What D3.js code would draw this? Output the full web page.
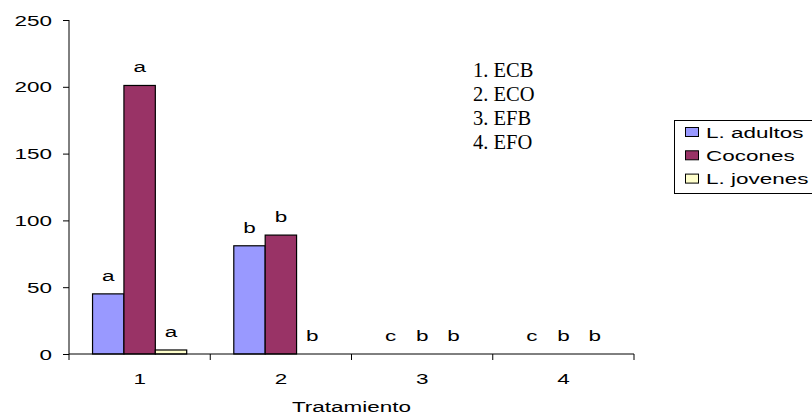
<!DOCTYPE html>
<html>
<head>
<meta charset="utf-8">
<script src="https://cdn.jsdelivr.net/npm/d3@7/dist/d3.min.js"></script>
<style>
  html, body { margin: 0; padding: 0; background: #fff; }
  svg { display: block; }
</style>
</head>
<body>
<svg id="chart" width="812" height="414"></svg>
<script>
// Treatments on the x axis
const categories = ["1", "2", "3", "4"];
// Series names and colours
const seriesNames = ["L. adultos", "Cocones", "L. jovenes"];
const seriesColors = ["#9999FF", "#993366", "#FFFFCC"];
// Values per series, one per treatment
const adultos = [45, 81, 0, 0];
const cocones = [201, 89, 0, 0];
const jovenes = [3, 0, 0, 0];
// Significance letters above each bar, per series
const lettersAdultos = ["a", "b", "c", "c"];
const lettersCocones = ["a", "b", "b", "b"];
const lettersJovenes = ["a", "b", "b", "b"];
// Y axis ticks
const yTicks = [0, 50, 100, 150, 200, 250];
// Treatment key
const keyLines = ["1. ECB", "2. ECO", "3. EFB", "4. EFO"];
const xTitle = "Tratamiento";

const values = [adultos, cocones, jovenes];
const letters = [lettersAdultos, lettersCocones, lettersJovenes];

const svg = d3.select("#chart");
const plotLeft = 69, plotRight = 634, plotTop = 20, plotBottom = 354;
const SX = 1.45;              // horizontal stretch of the sans text
const FS = 15.5;              // sans font size
const SANS = "'Liberation Sans', Arial, sans-serif";
const SERIF = "'Liberation Serif', 'Times New Roman', serif";

const y = d3.scaleLinear().domain([0, 250]).range([plotBottom, plotTop]);
const x0 = d3.scaleBand().domain(categories).range([plotLeft, plotRight]).padding(0);
const bw = x0.bandwidth();
const barW = bw / 4.5;
const x1 = d3.scaleBand().domain(seriesNames)
  .range([barW * 0.75, barW * 0.75 + barW * 3]).padding(0);

function stretchedText(g, x, yy, str, anchor, size) {
  return g.append("text")
    .attr("transform", `translate(${x},${yy}) scale(${SX},1)`)
    .attr("text-anchor", anchor)
    .attr("font-family", SANS)
    .attr("font-size", size || FS)
    .attr("fill", "#000")
    .text(str);
}

// Bars
const rows = [];
seriesNames.forEach((s, si) => {
  categories.forEach((c, ci) => {
    rows.push({ s, si, c, v: values[si][ci], l: letters[si][ci] });
  });
});

svg.append("g").selectAll("rect")
  .data(rows.filter(d => d.v > 0))
  .join("rect")
  .attr("x", d => x0(d.c) + x1(d.s))
  .attr("y", d => y(d.v))
  .attr("width", x1.bandwidth())
  .attr("height", d => y(0) - y(d.v))
  .attr("fill", d => seriesColors[d.si])
  .attr("stroke", "#000")
  .attr("stroke-width", 1.2);

// Letters above bars
const lg = svg.append("g");
rows.forEach(d => {
  stretchedText(lg, x0(d.c) + x1(d.s) + x1.bandwidth() / 2, y(d.v) - 13, d.l, "middle");
});

// Y axis
const yAxis = d3.axisLeft(y).tickValues(yTicks).tickSize(6).tickPadding(0).tickFormat(() => "");
const yg = svg.append("g").attr("transform", `translate(${plotLeft},0)`).call(yAxis);
yg.select(".domain").attr("d", `M0,${plotTop}V${plotBottom}`).attr("stroke", "#000");
yg.selectAll(".tick line").attr("stroke", "#000");
yTicks.forEach(t => {
  stretchedText(svg, 52, y(t) + 5.5, String(t), "end");
});

// X axis with ticks on category boundaries
const xg = svg.append("g").attr("transform", `translate(0,${plotBottom})`);
xg.append("line").attr("x1", plotLeft).attr("x2", plotRight).attr("stroke", "#000");
const bounds = categories.map(c => x0(c)).concat([plotRight]);
xg.selectAll(".bt").data(bounds).join("line")
  .attr("x1", d => d).attr("x2", d => d)
  .attr("y1", 0).attr("y2", 6).attr("stroke", "#000");
categories.forEach(c => {
  stretchedText(svg, x0(c) + bw / 2, 384, c, "middle");
});
stretchedText(svg, (plotLeft + plotRight) / 2, 412, xTitle, "middle");

// Treatment key
const kg = svg.append("g");
keyLines.forEach((t, i) => {
  kg.append("text")
    .attr("x", 473).attr("y", 77 + i * 24)
    .attr("font-family", SERIF)
    .attr("font-size", 20.5)
    .attr("fill", "#000")
    .text(t);
});

// Legend
const leg = svg.append("g");
leg.append("rect").attr("x", 674.5).attr("y", 120.5).attr("width", 160).attr("height", 73)
  .attr("fill", "#fff").attr("stroke", "#000").attr("stroke-width", 1);
seriesNames.forEach((s, i) => {
  const cy = 132 + i * 23.3;
  leg.append("rect").attr("x", 685.5).attr("y", cy - 4.5).attr("width", 13).attr("height", 9)
    .attr("fill", seriesColors[i]).attr("stroke", "#000").attr("stroke-width", 1);
  stretchedText(leg, 706, cy + 5.5, s, "start");
});
</script>
</body>
</html>
